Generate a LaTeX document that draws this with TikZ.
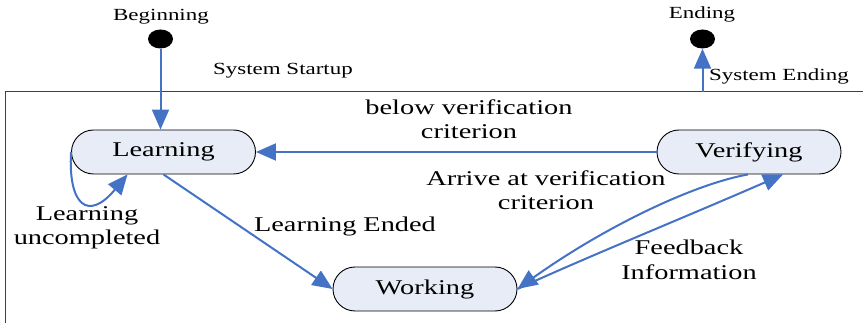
\documentclass[tikz,border=0pt]{standalone}
\usepackage{fontspec}
\setmainfont{Liberation Serif}[FakeStretch=1.35]
\usetikzlibrary{arrows.meta,shapes.misc,shapes.geometric}
\definecolor{flow}{HTML}{4472C4}
\definecolor{statefill}{HTML}{E7ECF6}
\definecolor{frame}{HTML}{404040}
\begin{document}
\begin{tikzpicture}[x=1pt,y=-1pt,
  state/.style={rounded rectangle,draw=black,line width=0.9pt,fill=statefill,
    minimum width=184pt,minimum height=44pt,inner sep=0pt,
    font=\fontsize{21}{24}\selectfont},
  dot/.style={ellipse,fill=black,minimum width=25pt,minimum height=19pt,inner sep=0pt},
  big/.style={align=center,inner sep=0pt,font=\fontsize{21}{24.5}\selectfont},
  small/.style={align=center,inner sep=0pt,font=\fontsize{17}{20}\selectfont},
  flowline/.style={draw=flow,line width=2pt,-{Triangle[length=20pt,width=17pt]}}]
\useasboundingbox (0,0) rectangle (863,323);

% enclosing frame (only its top and left edges are in view)
\draw[frame,line width=1pt] (5,323) -- (5,92) -- (863,92);

% initial and final pseudo-states
\node[dot] (B) at (160.5,39) {};
\node[small] (Blbl) at (161,17) {Beginning};
\node[dot] (E) at (702.5,39) {};
\node[small] (Elbl) at (702,14) {Ending};
\coordinate (Eout) at (702.5,92);

% states
\node[state] (L) at (163.5,152) {Learning};
\node[state] (V) at (749,152) {Verifying};
\node[state] (W) at (425,289) {Working};

% transitions
\draw[flowline] (B) -- (B |- L.north);
\draw[flowline] (Eout) -- (E);
\draw[flowline] (V.west) -- (L.east);
\draw[flowline] (L.south) -- (W.west);
\draw[flowline] (L.west) .. controls (68,205) and (88,222) .. ([xshift=-36pt]L.south);
\draw[flowline] ([xshift=-1pt]V.south) .. controls (690,185) and (600,230) .. (W.east);
\draw[flowline] (W.east) .. controls (575,262) and (695,213) .. ([xshift=34pt]V.south);

% transition labels
\node[small] (lStart) at (283,71) {System Startup};
\node[small] (lEnd) at (779,76) {System Ending};
\node[big] (lBelow) at (469,119) {below verification\\criterion};
\node[big] (lArrive) at (546,190) {Arrive at verification\\criterion};
\node[big] (lEnded) at (345,226) {Learning Ended};
\node[big] (lUnc) at (87,228) {Learning\\uncompleted};
\node[big] (lFeed) at (689,260) {Feedback\\Information};
\end{tikzpicture}
\end{document}
